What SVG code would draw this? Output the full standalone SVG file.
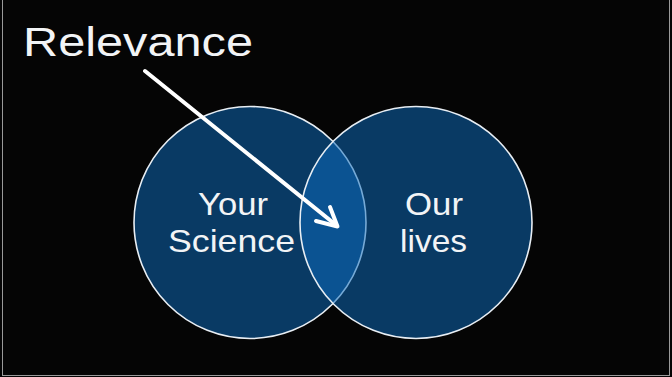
<svg xmlns="http://www.w3.org/2000/svg" width="672" height="377" viewBox="0 0 672 377">
<style>
.bg{fill:#050505}
.frame{stroke:#9a9a9a;stroke-width:1;fill:none}
.circ{fill:#0d6cbb;fill-opacity:0.52;stroke:#e8eef4;stroke-width:1.6}
.lbl{font-family:"Liberation Sans",Arial,sans-serif;fill:#f2f4f6}
.arrow{stroke:#ffffff;stroke-width:4;fill:none;stroke-linecap:round;stroke-linejoin:round}
</style>
<rect class="bg" x="0" y="0" width="672" height="377"/>
<line class="frame" x1="2.5" y1="0" x2="2.5" y2="376"/>
<line class="frame" x1="669.5" y1="0" x2="669.5" y2="376"/>
<line class="frame" x1="2" y1="375.5" x2="670" y2="375.5"/>
<g id="title">
<text class="lbl" x="23" y="56" font-size="40" textLength="230" lengthAdjust="spacingAndGlyphs">Relevance</text>
</g>
<g id="your-science">
<circle class="circ" cx="250" cy="222.5" r="116"/>
<text class="lbl" font-size="32" text-anchor="middle"><tspan x="233" y="215" textLength="70" lengthAdjust="spacingAndGlyphs">Your</tspan><tspan x="231.5" y="252" textLength="127" lengthAdjust="spacingAndGlyphs">Science</tspan></text>
</g>
<g id="our-lives">
<circle class="circ" cx="416" cy="222.5" r="116"/>
<text class="lbl" font-size="32" text-anchor="middle"><tspan x="434" y="215" textLength="58" lengthAdjust="spacingAndGlyphs">Our</tspan><tspan x="433.5" y="252" textLength="67" lengthAdjust="spacingAndGlyphs">lives</tspan></text>
</g>
<g id="connectors">
<path class="arrow" d="M145,71 L336,225"/>
<path class="arrow" d="M330,207 L337.5,226.5 L316,221"/>
</g>
</svg>
